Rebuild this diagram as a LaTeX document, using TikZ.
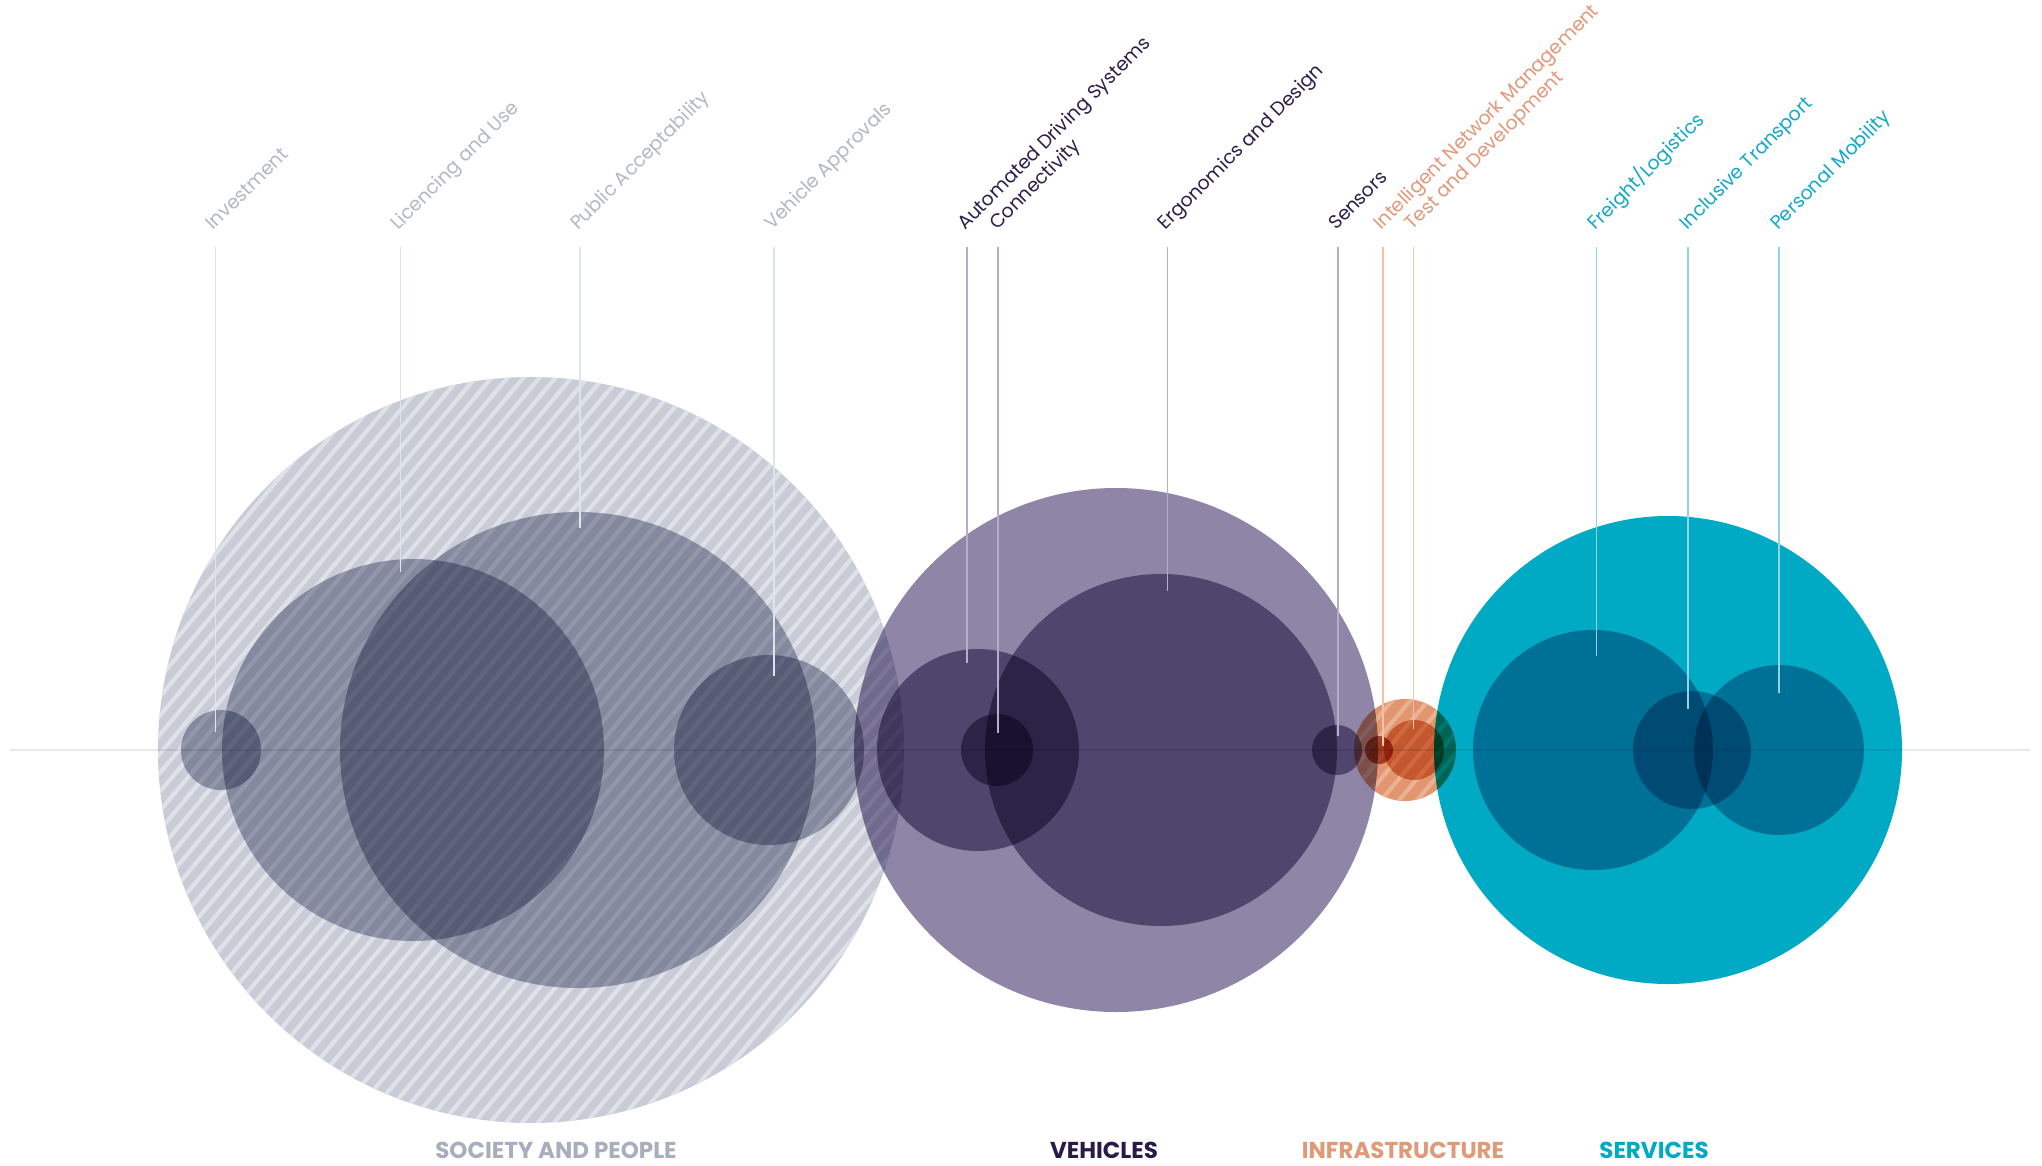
\documentclass[tikz,border=0pt]{standalone}
\usepackage{fontspec}
\setmainfont{Poppins}
\newfontfamily\labfont{Poppins}
\definecolor{socbase}{HTML}{C9CCD6}
\definecolor{socstripe}{HTML}{DFE1E8}
\definecolor{socmul}{HTML}{A8ACBC}
\definecolor{vehmul}{HTML}{8F85A7}
\definecolor{orbase}{HTML}{E1966F}
\definecolor{orstripe}{HTML}{EAB293}
\definecolor{ormul}{HTML}{E0956F}
\definecolor{redmul}{HTML}{B86048}
\definecolor{tealmul}{HTML}{00AAC4}
\definecolor{axisc}{HTML}{E5EAEF}
\definecolor{soclinec}{HTML}{DCE4EC}
\definecolor{vehlinec}{HTML}{B5ADCC}
\definecolor{orlinec}{HTML}{F0C2A8}
\definecolor{teallinec}{HTML}{93D3E3}
\definecolor{soctext}{HTML}{B4B7C6}
\definecolor{vehtext}{HTML}{2D1F4C}
\definecolor{ortext}{HTML}{E4987A}
\definecolor{tealtext}{HTML}{12A9C7}
\definecolor{catsoc}{HTML}{A9ADBE}
\definecolor{catveh}{HTML}{2A1A47}
\definecolor{catinf}{HTML}{E09A78}
\definecolor{catser}{HTML}{00A9C5}
\begin{document}
\begin{tikzpicture}[x=1pt,y=-1pt,
  lab/.style={anchor=base west, rotate=45, inner sep=0pt, font=\labfont\fontsize{19}{23}\selectfont},
  cat/.style={anchor=base, inner sep=0pt, font=\bfseries\fontsize{23}{27}\selectfont},
  leaderline/.style={line width=1.5pt},
  socline/.style={leaderline, draw=soclinec},
  vehline/.style={leaderline, draw=vehlinec},
  orline/.style={leaderline, draw=orlinec},
  tealline/.style={leaderline, draw=teallinec}]
\useasboundingbox (0,0) rectangle (2042,1166);
\fill[white] (0,0) rectangle (2042,1166);

% ---- hatched group circles (normal blending, on white)
\fill[socbase] (531,750) circle (373pt);
\begin{scope}
  \clip (531,750) circle (373pt);
  \foreach \i in {-46,...,46}
    \draw[socstripe, line width=4.2pt] ({531+\i*16-319},1130) -- ({531+\i*16+319},370);
\end{scope}
\fill[orbase] (1405,750) circle (51pt);
\begin{scope}
  \clip (1405,750) circle (51pt);
  \foreach \i in {-6,...,6}
    \draw[orstripe, line width=4.2pt] ({1405+\i*18-50},810) -- ({1405+\i*18+50},690);
\end{scope}

% ---- multiplied circles
\begin{scope}[blend mode=multiply]
  % society and people
  \fill[socmul] (221,750) circle (40pt);
  \fill[socmul] (413,750) circle (191pt);
  \fill[socmul] (578,750) circle (238pt);
  \fill[socmul] (769,750) circle (95pt);
  % vehicles
  \fill[vehmul] (1116,750) circle (262pt);
  \fill[vehmul] (1161,750) circle (176pt);
  \fill[vehmul] (978,750) circle (101pt);
  \fill[vehmul] (997,750) circle (36pt);
  \fill[vehmul] (1337,750) circle (25pt);
  % infrastructure
  \fill[redmul] (1379,750) circle (14pt);
  \fill[ormul] (1414,750) circle (30pt);
  % services
  \fill[tealmul] (1668,750) circle (234pt);
  \fill[tealmul] (1593,750) circle (120pt);
  \fill[tealmul] (1692,750) circle (59pt);
  \fill[tealmul] (1779,750) circle (85pt);
  % axis
  \coordinate (axL) at (10,750);
  \coordinate (axR) at (2030,750);
  \draw[axisc, line width=2pt] (axL) -- (axR);
\end{scope}

% ---- leader lines
\coordinate (invA) at (215.5,247);  \coordinate (invB) at (215.5,732);
\coordinate (licA) at (400.5,247);  \coordinate (licB) at (400.5,572);
\coordinate (pubA) at (580,247);    \coordinate (pubB) at (580,528);
\coordinate (vapA) at (774,247);    \coordinate (vapB) at (774,676);
\coordinate (adsA) at (967,247);    \coordinate (adsB) at (967,663);
\coordinate (conA) at (998,247);    \coordinate (conB) at (998,733);
\coordinate (ergA) at (1167.5,247); \coordinate (ergB) at (1167.5,591);
\coordinate (senA) at (1338,247);   \coordinate (senB) at (1338,736);
\coordinate (inmA) at (1383,247);   \coordinate (inmB) at (1383,746);
\coordinate (tadA) at (1413.7,247); \coordinate (tadB) at (1413.7,729);
\coordinate (frA) at (1596.7,247);  \coordinate (frB) at (1596.7,656);
\coordinate (incA) at (1688,247);   \coordinate (incB) at (1688,709);
\coordinate (perA) at (1779,247);   \coordinate (perB) at (1779,693);
\draw[socline] (invA) -- (invB);
\draw[socline] (licA) -- (licB);
\draw[socline] (pubA) -- (pubB);
\draw[socline] (vapA) -- (vapB);
\draw[vehline] (adsA) -- (adsB);
\draw[vehline] (conA) -- (conB);
\draw[vehline] (ergA) -- (ergB);
\draw[vehline] (senA) -- (senB);
\draw[orline] (inmA) -- (inmB);
\draw[orline] (tadA) -- (tadB);
\draw[tealline] (frA) -- (frB);
\draw[tealline] (incA) -- (incB);
\draw[tealline] (perA) -- (perB);

% ---- rotated labels
\node[lab, text=soctext] (linv) at (213.5,231) {Investment};
\node[lab, text=soctext] (llic) at (398.5,231) {Licencing and Use};
\node[lab, text=soctext] (lpub) at (578,231) {Public Acceptability};
\node[lab, text=soctext] (lvap) at (772,231) {Vehicle Approvals};
\node[lab, text=vehtext] (lads) at (965,231) {Automated Driving Systems};
\node[lab, text=vehtext] (lcon) at (997,231) {Connectivity};
\node[lab, text=vehtext] (lerg) at (1165.5,231) {Ergonomics and Design};
\node[lab, text=vehtext] (lsen) at (1336,231) {Sensors};
\node[lab, text=ortext] (linm) at (1381,231) {Intelligent Network Management};
\node[lab, text=ortext] (ltad) at (1412.5,231) {Test and Development};
\node[lab, text=tealtext] (lfr) at (1595.5,231) {Freight/Logistics};
\node[lab, text=tealtext] (linc) at (1687,231) {Inclusive Transport};
\node[lab, text=tealtext] (lper) at (1778,231) {Personal Mobility};

% ---- category labels
\node[cat, text=catsoc] (csoc) at (556,1158) {SOCIETY AND PEOPLE};
\node[cat, text=catveh] (cveh) at (1104,1158) {VEHICLES};
\node[cat, text=catinf] (cinf) at (1403,1158) {INFRASTRUCTURE};
\node[cat, text=catser] (cser) at (1654,1158) {SERVICES};
\end{tikzpicture}
\end{document}
